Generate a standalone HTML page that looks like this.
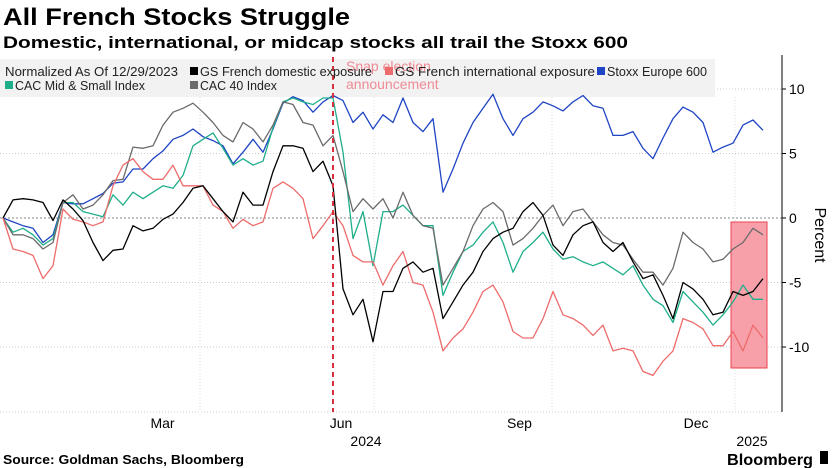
<!DOCTYPE html>
<html><head><meta charset="utf-8">
<style>
body{margin:0;background:#fff;width:833px;height:468px;overflow:hidden;font-family:"Liberation Sans",sans-serif;}
svg{position:absolute;left:0;top:0;}
</style></head><body>
<svg id="chart" width="833" height="468">
<text x="3" y="25" font-size="24" font-weight="bold" textLength="347" lengthAdjust="spacingAndGlyphs">All French Stocks Struggle</text>
<text x="3" y="48" font-size="17" font-weight="bold" textLength="625" lengthAdjust="spacingAndGlyphs">Domestic, international, or midcap stocks all trail the Stoxx 600</text>
</svg>
<script>
const seriesNames=["Stoxx Europe 600","CAC Mid & Small Index","CAC 40 Index","GS French international exposure","GS French domestic exposure"];
const seriesColors=["#1f44c4","#1fae8a","#6b6b6b","#ee6b6b","#000000"];
const stoxx=[0,-0.3,-0.6,-0.8,-1.9,-1.3,1.2,1.1,1.1,1.5,1.9,2.7,2.8,3.8,3.8,4.6,5.2,6.1,6.4,6.9,6.3,6.0,5.6,4.2,5.1,6.1,5.1,6.9,8.9,9.4,9.1,8.2,9.0,9.5,9.1,7.4,8.2,6.9,8.0,7.4,9.3,7.4,6.7,7.7,2.0,3.8,5.8,7.4,8.5,9.6,7.7,6.4,7.7,8.2,9.0,8.7,8.3,9.0,9.5,8.7,8.5,6.4,6.4,6.7,5.4,4.6,6.2,7.7,8.6,8.2,7.4,5.1,5.5,5.8,7.2,7.6,6.8];
const cacMid=[0,-1.1,-0.8,-1.3,-2.1,-1.6,1.2,1.2,0.5,0.3,0.1,1.8,1.0,2.0,1.5,2.0,2.5,2.3,3.3,5.6,6.1,6.6,5.4,4.1,4.6,4.1,4.4,7.0,9.0,9.3,9.0,8.8,9.3,9.3,5.1,-1.6,0.5,-3.7,0.5,0.5,1.0,0.2,-0.6,-0.6,-6.0,-4.2,-2.6,-2.1,-1.1,-0.3,-1.9,-4.2,-2.6,-1.9,-1.1,-2.4,-3.2,-3.0,-3.4,-3.7,-3.4,-3.9,-4.4,-3.7,-5.2,-6.3,-6.8,-8.1,-5.7,-6.5,-7.3,-8.3,-7.5,-6.5,-5.2,-6.3,-6.3];
const cac40=[0,-1.3,-1.3,-1.6,-2.4,-1.9,1.2,1.8,0.7,1.0,1.8,2.9,3.0,5.5,5.4,5.6,7.2,8.2,8.5,8.9,8.2,7.4,6.4,5.9,7.4,6.9,5.9,7.2,9.0,8.8,7.4,7.2,5.6,6.4,3.6,0.5,1.5,0.7,1.5,0,2.0,0.2,-0.6,-0.8,-5.2,-3.9,-2.6,-0.6,0.7,1.2,0.5,-2.1,-1.6,-0.8,0.2,1.0,-0.6,0.5,0.7,-0.3,-1.3,-1.9,-2.1,-3.2,-4.2,-4.2,-5.2,-3.9,-1.1,-1.9,-2.4,-3.4,-3.2,-2.4,-1.9,-0.8,-1.3];
const intl=[0,-2.4,-2.6,-2.9,-4.7,-3.7,0.7,-0.1,-0.3,-0.6,-0.3,2.5,4.1,4.6,3.6,3.0,3.0,4.1,2.5,2.5,2.5,1.0,0.5,-0.8,-0.1,-0.6,-0.3,2.3,2.8,2.3,1.5,-1.6,-0.6,0.5,-0.6,-2.9,-3.4,-3.4,-5.2,-3.7,-2.6,-5.0,-5.2,-7.3,-10.3,-9.3,-8.6,-7.3,-5.7,-5.2,-6.5,-8.8,-9.3,-9.3,-7.8,-5.7,-7.5,-7.8,-8.3,-9.1,-8.3,-10.3,-10.1,-10.3,-11.9,-12.2,-11.1,-10.3,-7.8,-8.1,-8.6,-9.9,-9.9,-8.8,-10.3,-8.3,-9.3];
const domestic=[0,1.4,1.5,1.4,1.2,-0.2,1.4,0.7,-0.2,-1.9,-3.3,-2.5,-2.4,-0.6,-1.0,-0.8,-0.1,0.3,1.2,2.3,2.5,1.5,0.5,-0.3,2.0,1.0,1.0,3.6,5.6,5.6,5.4,3.6,4.4,2.5,-5.5,-7.5,-6.3,-9.6,-5.7,-5.7,-3.9,-3.4,-4.2,-3.9,-7.8,-6.5,-5.2,-4.2,-2.6,-1.6,-1.1,-0.8,0.5,1.2,0.2,-2.1,-2.9,-1.3,-0.6,-0.3,-1.9,-2.6,-1.9,-3.4,-4.7,-4.4,-6.0,-7.8,-5.0,-5.5,-6.3,-7.5,-7.3,-5.7,-6.0,-5.7,-4.7];
const yTicks=[10,5,0,-5,-10];
const xLabels=["Mar","Jun","Sep","Dec"];
const xLabelDays=[74,166,258,349];
const allSeries=[stoxx,cacMid,cac40,intl,domestic];

const NS="http://www.w3.org/2000/svg";
const svg=document.getElementById('chart');
function el(t,a,p){const e=document.createElementNS(NS,t);for(const k in a)e.setAttribute(k,a[k]);(p||svg).appendChild(e);return e;}
const y=v=>218-v*12.9;
const xi=i=>3+i*10;
const xDay=d=>19+d*1.94;
yTicks.forEach(t=>{const g=el('line',{x1:0,x2:782,y1:y(t),y2:y(t),stroke:t===0?'#888':'#ccc','stroke-dasharray':t===0?'2,2':'1,2','stroke-width':1});

});
[200,374,552,735].forEach(gx=>{const g=el('line',{x1:gx,x2:gx,y1:97,y2:412,stroke:'#ddd','stroke-dasharray':'1,2'});

});
el('line',{x1:0,x2:782,y1:412,y2:412,stroke:'#ccc','stroke-dasharray':'1,2'});
const lb=el('rect',{x:0,y:59,width:715,height:38,fill:'#f2f2f2'});


const hl=el('rect',{x:731,y:222,width:36,height:146,fill:'#f7a0aa',stroke:'#e8404e','stroke-width':1});


allSeries.forEach((s,k)=>{const d=s.map((v,i)=>(i?'L':'M')+xi(i)+','+y(v).toFixed(1)).join('');
const p=el('path',{d:d,fill:'none',stroke:seriesColors[k],'stroke-width':1.3,'stroke-linejoin':'round'});

});
const el1=el('line',{x1:333,x2:333,y1:57,y2:412,stroke:'#d8303e','stroke-width':2,'stroke-dasharray':'5,4'});


const an=el('text',{x:346,y:71,fill:'#ef8a96','font-size':14});an.textContent='Snap election';


const an2=el('text',{x:346,y:89,fill:'#ef8a96','font-size':14});an2.textContent='announcement';


const leg=[[5,76,null,'Normalized As Of 12/29/2023',173],[190,76,4,'GS French domestic exposure',172],[385,76,3,'GS French international exposure',200],[597,76,0,'Stoxx Europe 600',100],[5,90,1,'CAC Mid & Small Index',130],[190,90,2,'CAC 40 Index',77]];
leg.forEach(([lx,ly,c,txt,w])=>{let tx=lx;
if(c!==null){const sq=el('rect',{x:lx,y:ly-9,width:8,height:8,fill:seriesColors[c]});

tx=lx+10;}
const t=el('text',{x:tx,y:ly,'font-size':12.5,fill:'#222',textLength:w,lengthAdjust:'spacingAndGlyphs'});t.textContent=txt;

});
el('line',{x1:782,x2:782,y1:55,y2:412,stroke:'#000','stroke-width':1});
yTicks.forEach(t=>{el('line',{x1:782,x2:786,y1:y(t),y2:y(t),stroke:'#000'});
const l=el('text',{x:789,y:y(t)+5,'font-size':14,fill:'#000'});l.textContent=t;

});
const yt=el('text',{x:0,y:0,'font-size':16,fill:'#000',transform:'translate(815,235) rotate(90)','text-anchor':'middle'});yt.textContent='Percent';


xLabels.forEach((m,i)=>{const t=el('text',{x:xDay(xLabelDays[i]),y:428,'font-size':14,'text-anchor':'middle',fill:'#000'});t.textContent=m;

});
[[366,'2024'],[752,'2025']].forEach(([x,s])=>{const t=el('text',{x:x,y:446,'font-size':14,'text-anchor':'middle',fill:'#000'});t.textContent=s;

});
const src=el('text',{x:3,y:464,'font-size':13,'font-weight':'bold',fill:'#000',textLength:241,lengthAdjust:'spacingAndGlyphs'});src.textContent='Source: Goldman Sachs, Bloomberg';


const bb=el('text',{x:727,y:465,'font-size':16,'font-weight':'bold',fill:'#000',textLength:86,lengthAdjust:'spacingAndGlyphs'});bb.textContent='Bloomberg';


el('rect',{x:820,y:451,width:8,height:13,fill:'#000'});
</script>
</body></html>
